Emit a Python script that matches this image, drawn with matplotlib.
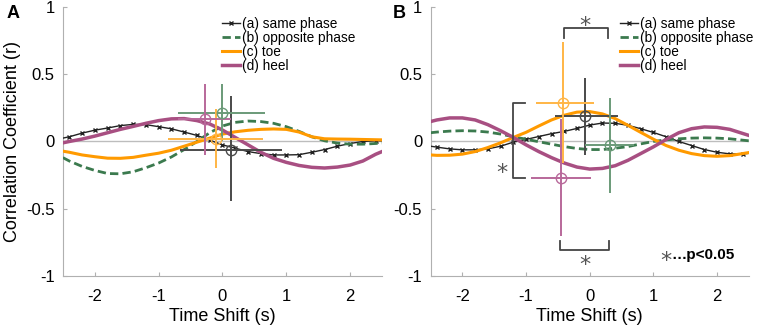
import matplotlib
matplotlib.use("Agg")
import matplotlib.pyplot as plt
import numpy as np

plt.rcParams['font.family'] = ['Liberation Sans', 'DejaVu Sans']

# time-shift samples (s); markers sit on the interior points
T = [-2.5, -2.4, -2.2, -2.0, -1.8, -1.6, -1.4, -1.2, -1.0, -0.8, -0.6, -0.4, -0.2,
     0.0, 0.2, 0.4, 0.6, 0.8, 1.0, 1.2, 1.4, 1.6, 1.8, 2.0, 2.2, 2.4, 2.5]

# panel A curves
A_same = [0.025, 0.035, 0.062, 0.084, 0.100, 0.118, 0.127, 0.125, 0.110, 0.094, 0.070, 0.045, 0.010,
          -0.025, -0.050, -0.075, -0.090, -0.100, -0.100, -0.098, -0.080, -0.060, -0.035, -0.015, 0.000, 0.005, 0.005]
A_opp = [-0.120, -0.145, -0.185, -0.215, -0.238, -0.240, -0.225, -0.195, -0.160, -0.115, -0.060, 0.000, 0.065,
         0.115, 0.142, 0.152, 0.148, 0.135, 0.110, 0.075, 0.035, 0.005, -0.012, -0.020, -0.020, -0.015, -0.012]
A_toe = [-0.072, -0.080, -0.100, -0.113, -0.124, -0.125, -0.118, -0.102, -0.087, -0.065, -0.035, -0.005, 0.025,
         0.055, 0.072, 0.083, 0.090, 0.093, 0.090, 0.070, 0.035, 0.020, 0.018, 0.017, 0.015, 0.013, 0.012]
A_heel = [-0.010, 0.000, 0.018, 0.040, 0.065, 0.090, 0.112, 0.135, 0.155, 0.168, 0.170, 0.155, 0.130,
          0.085, 0.030, -0.025, -0.080, -0.125, -0.155, -0.178, -0.192, -0.197, -0.190, -0.175, -0.145, -0.095, -0.075]

# panel B curves
B_same = [-0.035, -0.042, -0.055, -0.062, -0.062, -0.055, -0.035, -0.005, 0.015, 0.037, 0.058, 0.075, 0.097,
          0.122, 0.137, 0.135, 0.120, 0.095, 0.067, 0.035, 0.000, -0.030, -0.060, -0.080, -0.092, -0.093, -0.088]
B_opp = [0.065, 0.070, 0.077, 0.080, 0.078, 0.070, 0.055, 0.035, 0.017, -0.002, -0.020, -0.038, -0.052,
         -0.060, -0.060, -0.050, -0.038, -0.018, 0.000, 0.012, 0.020, 0.025, 0.027, 0.025, 0.020, 0.010, 0.005]
B_toe = [-0.100, -0.103, -0.102, -0.094, -0.075, -0.045, -0.010, 0.030, 0.068, 0.115, 0.160, 0.195, 0.218,
         0.222, 0.205, 0.170, 0.120, 0.068, 0.017, -0.030, -0.065, -0.090, -0.105, -0.110, -0.105, -0.090, -0.082]
B_heel = [0.148, 0.160, 0.175, 0.175, 0.160, 0.125, 0.080, 0.030, -0.025, -0.075, -0.120, -0.160, -0.190,
          -0.205, -0.200, -0.180, -0.140, -0.090, -0.040, 0.015, 0.065, 0.095, 0.108, 0.105, 0.090, 0.060, 0.045]

# peak markers: (x, y, x_low, x_high, y_low, y_high), order same/opp/toe/heel
A_peaks = [(0.14, -0.062, -0.66, 0.93, -0.44, 0.34),
           (-0.01, 0.215, -0.70, 0.67, 0.00, 0.43),
           (-0.10, 0.022, -0.86, 0.63, -0.20, 0.24),
           (-0.27, 0.166, -0.69, 0.13, -0.10, 0.43)]
B_peaks = [(-0.08, 0.186, -0.54, 0.45, -0.10, 0.47),
           (0.32, -0.027, -0.08, 0.70, -0.38, 0.32),
           (-0.42, 0.283, -0.85, 0.06, -0.16, 0.74),
           (-0.45, -0.268, -0.93, 0.02, -0.70, 0.17)]

LABELS = ["(a) same phase", "(b) opposite phase", "(c) toe", "(d) heel"]
LINE_COLORS = ["#222222", "#3b7a4e", "#ff9a00", "#a84f82"]
BAR_COLORS = ["#4a4a4a", "#6a9a78", "#ffb545", "#b8689a"]

# significance brackets in panel B: (xs, ys) polylines and star positions
BRACKETS = [([-0.40, -0.40, 0.29, 0.29], [0.766, 0.84, 0.84, 0.766]),
            ([-0.46, -0.46, 0.31, 0.31], [-0.74, -0.805, -0.805, -0.74]),
            ([-1.01, -1.21, -1.21, -1.01], [0.283, 0.283, -0.268, -0.268])]
STARS = [(-0.07, 0.90), (-0.08, -0.875), (-1.38, -0.19)]
NOTE_STAR = (1.19, -0.845)


def draw(ax, curves, peaks, legend_x):
    ax.axhline(0, color="#bdbdbd", lw=1, zorder=1)
    styles = [dict(ls="-", lw=1.0, marker="x", ms=3.5, mew=1.0, markevery=slice(1, -1)),
              dict(ls=(0, (3, 1.5)), lw=2.0),
              dict(ls="-", lw=2.2),
              dict(ls="-", lw=2.5)]
    for ys, lab, c, st in zip(curves, LABELS, LINE_COLORS, styles):
        ax.plot(T, ys, color=c, label=lab, zorder=3, **st)
    for (x, y, xl, xh, yl, yh), c in zip(peaks, BAR_COLORS):
        ax.errorbar([x], [y], xerr=[[x - xl], [xh - x]], yerr=[[y - yl], [yh - y]],
                    fmt="o", ms=7.5, mfc="none", mec=c, mew=1.0, ecolor=c,
                    elinewidth=1.4, capsize=0, zorder=4)
    ax.set_xlim(-2.5, 2.5)
    ax.set_ylim(-1, 1)
    ax.set_xticks([-2, -1, 0, 1, 2])
    ax.set_yticks([-1, -0.5, 0, 0.5, 1])
    ax.set_yticklabels(["-1", "-0.5", "0", "0.5", "1"])
    ax.set_xticklabels(["-2", "-1", "0", "1", "2"])
    for s in ["top", "right"]:
        ax.spines[s].set_visible(False)
    for s in ["left", "bottom"]:
        ax.spines[s].set_color("#b0b0b0")
    ax.tick_params(direction="in", length=3, color="#b0b0b0", labelsize=12)
    ax.tick_params(axis="x", pad=9)
    ax.tick_params(axis="y", pad=6)
    ax.set_xlabel("Time Shift (s)", fontsize=13, labelpad=3)
    ax.legend(loc="upper left", bbox_to_anchor=(legend_x, 0.962), frameon=False,
              fontsize=9.8, handlelength=1.35, handletextpad=0.12, labelspacing=0.0,
              borderpad=0, borderaxespad=0)


fig = plt.figure(figsize=(7.58, 3.26), dpi=100)
axA = fig.add_axes([0.083, 0.153, 0.421, 0.826])
axB = fig.add_axes([0.568, 0.153, 0.420, 0.826])

draw(axA, [A_same, A_opp, A_toe, A_heel], A_peaks, 0.498)
draw(axB, [B_same, B_opp, B_toe, B_heel], B_peaks, 0.594)
axA.set_ylabel("Correlation Coefficient (r)", fontsize=13, labelpad=4)

for xs, ys in BRACKETS:
    axB.plot(xs, ys, color="#444444", lw=1.3, zorder=5)
for x, y in STARS + [NOTE_STAR]:
    axB.text(x, y - 0.045, "*", fontsize=16, color="#555555", ha="center", va="center",
             family="DejaVu Sans")
axB.text(NOTE_STAR[0] + 0.1, NOTE_STAR[1], "…p<0.05", fontsize=11, fontweight="bold",
         ha="left", va="center")

fig.text(0.008, 0.96, "A", fontsize=13, fontweight="bold", va="center")
fig.text(0.518, 0.96, "B", fontsize=13, fontweight="bold", va="center")

fig.savefig("out.png", dpi=100)
